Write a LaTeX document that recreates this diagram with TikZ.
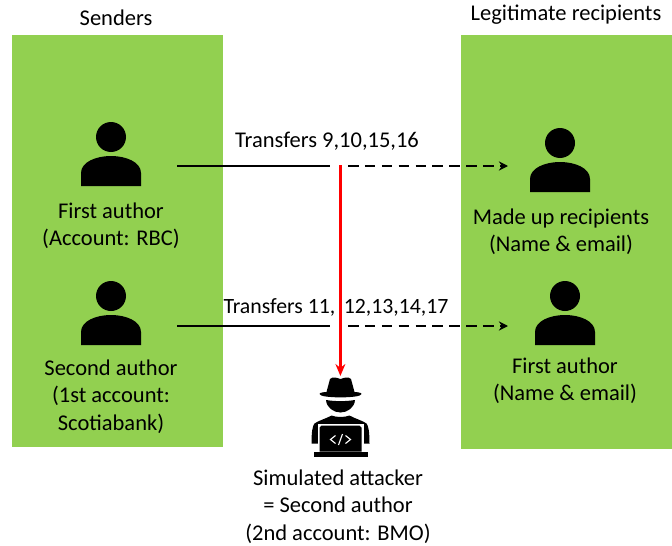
\documentclass[tikz,border=0pt]{standalone}
\usepackage{fontspec}
\setmainfont{Carlito}
\usetikzlibrary{arrows.meta}
\tikzset{
    panel/.style={fill=panelgreen, draw=none},
    label/.style={align=center, inner sep=0pt, font=\fontsize{16}{19.5}\selectfont},
    solidline/.style={line width=1.8pt},
    dashline/.style={line width=1.8pt, dash pattern=on 7.5pt off 4.5pt, -{Stealth[length=6.5pt,width=6.5pt]}},
    person/.pic={
        \fill (0,0) circle (15);
        \fill (-30,49) -- (-30,36) .. controls (-30,25) and (-15,19) .. (0,19)
            .. controls (15,19) and (30,25) .. (30,36) -- (30,49) -- cycle;
    },
    attacker/.pic={
        % hat
        \fill (-21,16.5) .. controls (-21,15) and (-16,14.5) .. (-14,14.5)
            -- (-10.5,1.5) .. controls (-8,-1) and (-4,0) .. (0,1.5)
            .. controls (4,0) and (8,-1) .. (10.5,1.5) -- (14,14.5)
            .. controls (16,14.5) and (21,15) .. (21,16.5)
            .. controls (21,21) and (-21,21) .. (-21,16.5) -- cycle;
        % face
        \fill (-14.5,22.5) .. controls (-14,30) and (-7,35) .. (0,35)
            .. controls (7,35) and (14,30) .. (14.5,22.5)
            .. controls (5,24) and (-5,24) .. (-14.5,22.5) -- cycle;
        % shoulders
        \fill (-29,66) .. controls (-29,55) and (-28,48) .. (-26,46)
            .. controls (-22,43) and (-14,41) .. (-9,38)
            .. controls (-4,40) and (4,40) .. (9,38)
            .. controls (14,41) and (22,43) .. (26,46)
            .. controls (28,48) and (29,55) .. (29,66) -- cycle;
        % laptop
        \fill[white] (-23,75) rectangle (23,46);
        \fill (-21,74) -- (-21,50) -- (-19,48) -- (19,48) -- (21,50) -- (21,74) -- cycle;
        \fill (-27,74) rectangle (27,79);
        % code sign
        \draw[white, line width=0.8pt] (-5,58) -- (-10,62) -- (-5,66)
            (5,58) -- (10,62) -- (5,66) (2,56.5) -- (-2,67.5);
    }
}
\definecolor{panelgreen}{HTML}{92D050}
\begin{document}
\begin{tikzpicture}[x=0.025cm, y=-0.025cm]
    \useasboundingbox (0,0) rectangle (672,546);
    % green panels
    \fill[panel] (12,35) rectangle (223,447);
    \fill[panel] (461,35) rectangle (672,449);
    % people
    \pic at (111,137) {person};
    \pic at (111,296) {person};
    \pic at (560,143) {person};
    \pic at (565,296) {person};
    \pic at (340.5,377.5) {attacker};
    % headings
    \node[label] (senders) at (116,18) {Senders};
    \node[label] (recipients) at (566,15) {Legitimate recipients};
    % texts under the people
    \node[label] (first) at (111,225.5) {First author\\(Account: RBC)};
    \node[label] (second) at (111,396.5) {Second author\\(1st account:\\Scotiabank)};
    \node[label] (madeup) at (561,231.5) {Made up recipients\\(Name \& email)};
    \node[label] (firstrec) at (565,380.5) {First author\\(Name \& email)};
    \node[label] (sim) at (338,506.5) {Simulated attacker\\= Second author\\(2nd account: BMO)};
    \node[label] (upper) at (327,141) {Transfers 9,10,15,16};
    \node[label, font=\fontsize{15.5}{19.5}\selectfont] (lower) at (336,307) {Transfers 11,\hspace{6pt}12,13,14,17};
    % end points of the arrows
    \coordinate (a1) at (177,166);
    \coordinate (a2) at (330,166);
    \coordinate (a3) at (348,166);
    \coordinate (a4) at (508,166);
    \coordinate (b1) at (177,326);
    \coordinate (b2) at (330,326);
    \coordinate (b3) at (348,326);
    \coordinate (b4) at (508,326);
    \coordinate (r1) at (340.4,165);
    \coordinate (r2) at (340.4,376);
    % upper transfers
    \draw[solidline] (a1) -- (a2);
    \draw[dashline] (a3) -- (a4);
    % lower transfers
    \draw[solidline] (b1) -- (b2);
    \draw[dashline] (b3) -- (b4);
    % red arrow
    \draw[red, line width=2.1pt, -{Stealth[length=8.5pt,width=7pt]}] (r1) -- (r2);
\end{tikzpicture}
\end{document}
